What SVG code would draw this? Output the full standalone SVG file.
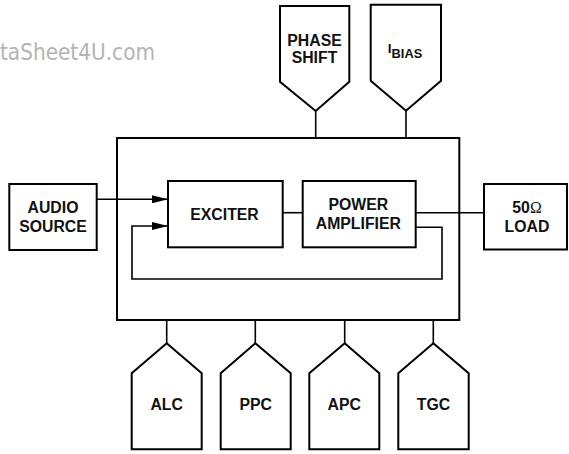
<svg xmlns="http://www.w3.org/2000/svg" width="569" height="454" viewBox="0 0 569 454">
<defs>
<style>
.box{fill:#fff;stroke:#000;stroke-width:2}
.ln{fill:none;stroke:#000;stroke-width:1.6}
.t{font-family:"Liberation Sans",Arial,sans-serif;font-weight:bold;font-size:15.8px;fill:#111;text-anchor:middle}
.wm{font-family:"DejaVu Sans","Liberation Sans",sans-serif;font-size:23px;fill:#b4b4b4}
</style>
<marker id="ah" markerWidth="16" markerHeight="8" refX="16" refY="4" orient="auto" markerUnits="userSpaceOnUse">
<path d="M0,0 L16,4 L0,8 Z" fill="#000"/>
</marker>
</defs>
<rect width="569" height="454" fill="#fff"/>
<text class="wm" x="0" y="60" textLength="155" lengthAdjust="spacingAndGlyphs">taSheet4U.com</text>
<g id="connectors">
<line class="ln" x1="315.7" y1="111" x2="315.7" y2="138"/>
<line class="ln" x1="406" y1="110.7" x2="406" y2="138"/>
<line class="ln" x1="97" y1="199.3" x2="168" y2="199.3" marker-end="url(#ah)"/>
<path class="ln" d="M416,227.3 H442 V279 H132 V226 H168" marker-end="url(#ah)"/>
<line class="ln" x1="283" y1="212.7" x2="303" y2="212.7"/>
<line class="ln" x1="416" y1="212.7" x2="484" y2="212.7"/>
<line class="ln" x1="166.7" y1="320" x2="166.7" y2="343.3"/>
<line class="ln" x1="255.3" y1="320" x2="255.3" y2="343.3"/>
<line class="ln" x1="344.7" y1="320" x2="344.7" y2="343.3"/>
<line class="ln" x1="433.3" y1="320" x2="433.3" y2="343.3"/>
</g>
<g id="main"><rect class="box" x="117" y="138" width="342.3" height="182" style="fill:none"/></g>
<g id="phase"><path class="box" d="M280,6 H349.3 V81.7 L315.7,111 L280,81.7 Z"/>
<text class="t" x="314.5" y="45.7">PHASE</text><text class="t" x="314.5" y="63.3">SHIFT</text></g>
<g id="ibias"><path class="box" d="M370.7,4.7 H441 V80.7 L406,110.7 L370.7,80.7 Z"/>
<text class="t" x="405" y="52.7" style="font-size:13.5px"><tspan>I</tspan><tspan dy="5.6" style="font-size:12.8px">BIAS</tspan></text></g>
<g id="audio"><rect class="box" x="9.3" y="184" width="87.4" height="66"/>
<text class="t" x="53" y="213.3">AUDIO</text><text class="t" x="53" y="232">SOURCE</text></g>
<g id="exciter"><rect class="box" x="168" y="181" width="114.7" height="66.3"/>
<text class="t" x="224.5" y="220">EXCITER</text></g>
<g id="pa"><rect class="box" x="302.7" y="181" width="113" height="66.3"/>
<text class="t" x="358.3" y="210">POWER</text><text class="t" x="358.3" y="228.7">AMPLIFIER</text></g>
<g id="load"><rect class="box" x="484" y="184" width="83" height="65.5"/>
<text class="t" x="527" y="213">50<tspan style="font-family:'Liberation Serif',serif;font-weight:normal">Ω</tspan></text><text class="t" x="527" y="231.7">LOAD</text></g>
<g id="alc"><path class="box" d="M166.7,343.3 L201.7,373.3 V449.3 H131.7 V373.3 Z"/><text class="t" x="166.7" y="410">ALC</text></g>
<g id="ppc"><path class="box" d="M255.3,343.3 L290.7,373.3 V449.3 H220.7 V373.3 Z"/><text class="t" x="255.7" y="410">PPC</text></g>
<g id="apc"><path class="box" d="M344.7,343.3 L379.3,373.3 V449.3 H309.3 V373.3 Z"/><text class="t" x="344.3" y="410">APC</text></g>
<g id="tgc"><path class="box" d="M433.3,343.3 L468.7,373.3 V449.3 H398.3 V373.3 Z"/><text class="t" x="433.5" y="410">TGC</text></g>
</svg>
